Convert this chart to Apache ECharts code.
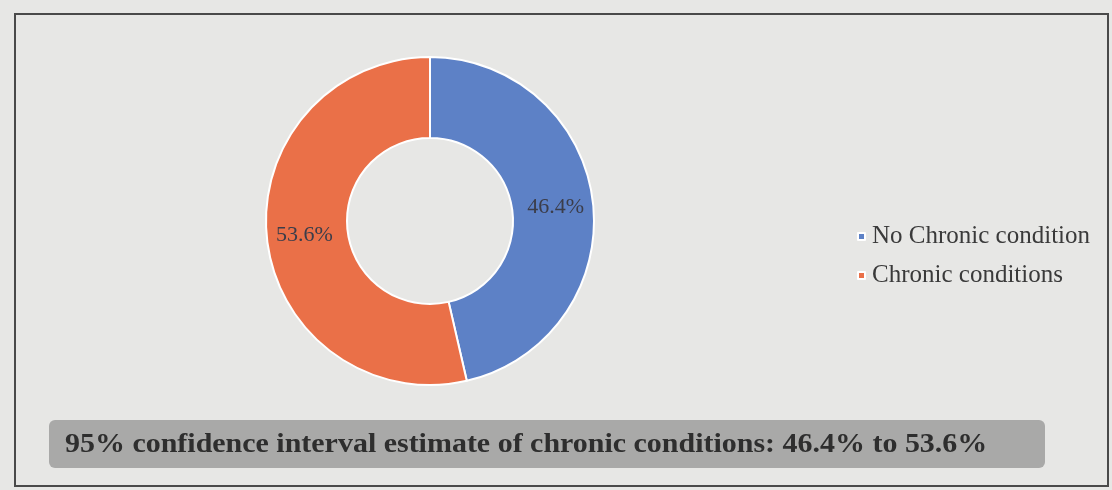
<!DOCTYPE html>
<html>
<head>
<meta charset="utf-8">
<script src="https://cdn.jsdelivr.net/npm/echarts@6/dist/echarts.min.js"></script>
<style>
  html, body { margin: 0; padding: 0; background: #e7e7e5; }
  #chart { width: 1112px; height: 490px; }
</style>
</head>
<body>
<div id="chart"></div>
<script>
// data
const categories = ["No Chronic condition", "Chronic conditions"];
const shares = [46.4, 53.6];
const sliceColors = ["#5d81c6", "#ea7048"];
const caption = "95% confidence interval estimate of chronic conditions: 46.4% to 53.6%";

const chart = echarts.init(document.getElementById("chart"), null, { renderer: "canvas" });

const option = {
  backgroundColor: "#e7e7e5",
  animation: false,
  color: sliceColors,
  legend: {
    orient: "vertical",
    left: 852,
    top: 219,
    icon: "rect",
    itemWidth: 7,
    itemHeight: 7,
    itemGap: 14,
    textStyle: {
      fontFamily: "Liberation Serif",
      fontSize: 25,
      color: "#3a3a3a",
      padding: [0, 0, 0, 2],
    },
    data: categories,
  },
  graphic: [
    // outer frame
    {
      type: "rect",
      shape: { x: 15, y: 14, width: 1093, height: 472 },
      style: { fill: "none", stroke: "#4a4a4a", lineWidth: 2 },
      z: 1,
    },
    // caption banner
    {
      type: "rect",
      shape: { x: 49, y: 420, width: 996, height: 48, r: 6 },
      style: { fill: "#a9a9a8" },
      z: 1,
    },
    {
      type: "text",
      x: 65,
      y: 431,
      scaleX: 1.07,
      style: {
        text: caption,
        fontFamily: "Liberation Serif",
        fontWeight: "bold",
        fontSize: 28,
        fill: "#2e2e2e",
      },
      z: 2,
    },
  ],
  series: [
    {
      type: "pie",
      center: [430, 221],
      radius: [83, 164],
      startAngle: 90,
      clockwise: true,
      itemStyle: { borderColor: "#ffffff", borderWidth: 2 },
      label: {
        show: true,
        position: "inside",
        formatter: (p) => p.value.toFixed(1) + "%",
        fontFamily: "Liberation Serif",
        fontSize: 22,
        color: "#3b3d4a",
      },
      labelLine: { show: false },
      emphasis: { disabled: true },
      data: categories.map((name, i) => ({ name, value: shares[i] })),
    },
  ],
};

chart.setOption(option);
</script>
</body>
</html>
